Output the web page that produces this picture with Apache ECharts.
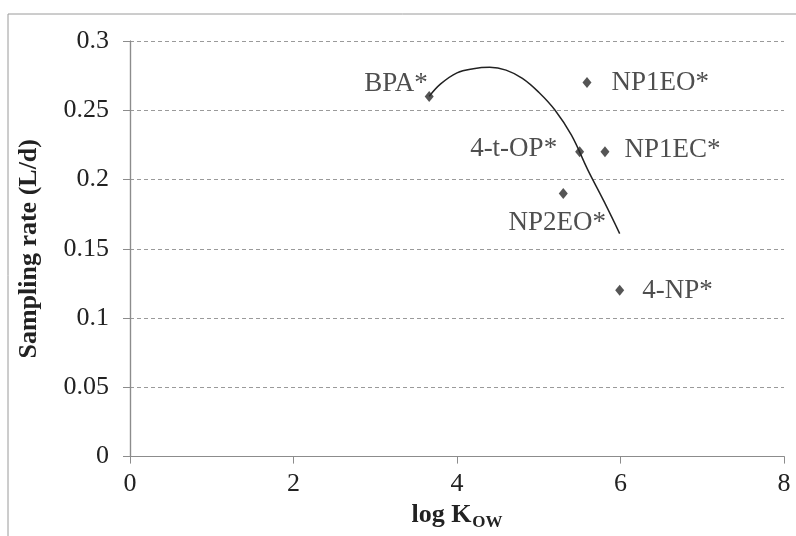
<!DOCTYPE html>
<html>
<head>
<meta charset="utf-8">
<script src="https://cdn.jsdelivr.net/npm/echarts@6/dist/echarts.min.js"></script>
<style>
  html, body { margin: 0; padding: 0; background: #fff; }
  #chart { width: 796px; height: 536px; }
</style>
</head>
<body>
<div id="chart"></div>
<script>
// Compounds with their octanol-water partition coefficient and sampling rate
const compounds = ['BPA*', 'NP1EO*', '4-t-OP*', 'NP1EC*', 'NP2EO*', '4-NP*'];
const logKow = [3.66, 5.59, 5.50, 5.81, 5.30, 5.99];
const samplingRate = [0.26, 0.27, 0.22, 0.22, 0.19, 0.12];

// Trend curve traced through the compounds
const trendLogKow = [3.66, 3.8, 4.0, 4.2, 4.4, 4.6, 4.8, 5.0, 5.2, 5.4, 5.6, 5.8, 5.99];
const trendRate = [0.260, 0.269, 0.277, 0.280, 0.281, 0.279, 0.273, 0.263, 0.250, 0.232, 0.207, 0.184, 0.161];

// Axis ranges and tick steps
const xRange = [0, 8], xStep = 2;
const yRange = [0, 0.3], yStep = 0.05;

const SERIF = "'Liberation Serif', 'Times New Roman', serif";
const INK = '#222';
const AXIS_GREY = '#8c8c8c';

// Label placement for each compound
const labelPlacement = {
  'BPA*':   { position: 'left',   distance: 5,  offset: [8, -13] },
  'NP1EO*': { position: 'right',  distance: 20, offset: [0, 0] },
  '4-t-OP*':{ position: 'left',   distance: 18, offset: [0, -3] },
  'NP1EC*': { position: 'right',  distance: 15, offset: [0, -2] },
  'NP2EO*': { position: 'bottom', distance: 11, offset: [-6, 0] },
  '4-NP*':  { position: 'right',  distance: 18, offset: [0, 1] }
};

const points = compounds.map((name, i) => ({
  name: name,
  value: [logKow[i], samplingRate[i]],
  label: labelPlacement[name]
}));
const trend = trendLogKow.map((x, i) => [x, trendRate[i]]);

const chart = echarts.init(document.getElementById('chart'), null, { renderer: 'canvas' });

const tickLabel = { color: INK, fontFamily: SERIF, fontSize: 26 };

chart.setOption({
  animation: false,
  backgroundColor: '#fff',
  graphic: [{
    type: 'rect',
    shape: { x: 8, y: 14, width: 820, height: 600 },
    style: { fill: null, stroke: '#9a9a9a', lineWidth: 1 },
    silent: true,
    z: -1
  }],
  grid: { left: 130, top: 41, right: 12, bottom: 79 },
  xAxis: [{
    type: 'value',
    min: xRange[0], max: xRange[1], interval: xStep,
    name: '{a|log K}{b|OW}',
    nameLocation: 'middle',
    nameGap: 40,
    nameTextStyle: {
      color: INK,
      rich: {
        a: { fontFamily: SERIF, fontSize: 26, fontWeight: 'bold', color: INK },
        b: { fontFamily: SERIF, fontSize: 17, fontWeight: 'bold', color: INK, padding: [14, 0, 0, 1] }
      }
    },
    axisLine: { show: true, onZero: false, lineStyle: { color: AXIS_GREY, width: 1.2 } },
    axisTick: { show: true, length: 7, lineStyle: { color: AXIS_GREY } },
    axisLabel: Object.assign({ margin: 15 }, tickLabel),
    splitLine: { show: false }
  }, {
    type: 'value', position: 'top',
    min: xRange[0], max: xRange[1], interval: xStep,
    axisLine: { show: true, lineStyle: { color: AXIS_GREY, width: 1.2 } },
    axisTick: { show: false }, axisLabel: { show: false }, splitLine: { show: false }
  }],
  yAxis: [{
    type: 'value',
    min: yRange[0], max: yRange[1], interval: yStep,
    name: 'Sampling rate (L/d)',
    nameLocation: 'middle',
    nameGap: 88,
    nameTextStyle: { color: INK, fontFamily: SERIF, fontSize: 26, fontWeight: 'bold' },
    axisLine: { show: true, onZero: false, lineStyle: { color: AXIS_GREY, width: 1.2 } },
    axisTick: { show: true, length: 7, lineStyle: { color: AXIS_GREY } },
    axisLabel: Object.assign({ margin: 21 }, tickLabel),
    splitLine: { show: true, lineStyle: { color: '#9a9a9a', type: [4, 3], width: 1 } }
  }, {
    type: 'value', position: 'right',
    min: yRange[0], max: yRange[1], interval: yStep,
    axisLine: { show: true, lineStyle: { color: AXIS_GREY, width: 1.2 } },
    axisTick: { show: false }, axisLabel: { show: false }, splitLine: { show: false }
  }],
  series: [{
    type: 'line',
    data: trend,
    smooth: 0.4,
    showSymbol: false,
    lineStyle: { color: INK, width: 1.5 },
    z: 2
  }, {
    type: 'scatter',
    data: points,
    symbol: 'diamond',
    symbolSize: [9, 11],
    itemStyle: { color: '#2a2a2a' },
    label: {
      show: true,
      formatter: '{b}',
      color: INK,
      fontFamily: SERIF,
      fontSize: 27
    },
    z: 3
  }]
});
</script>
</body>
</html>
